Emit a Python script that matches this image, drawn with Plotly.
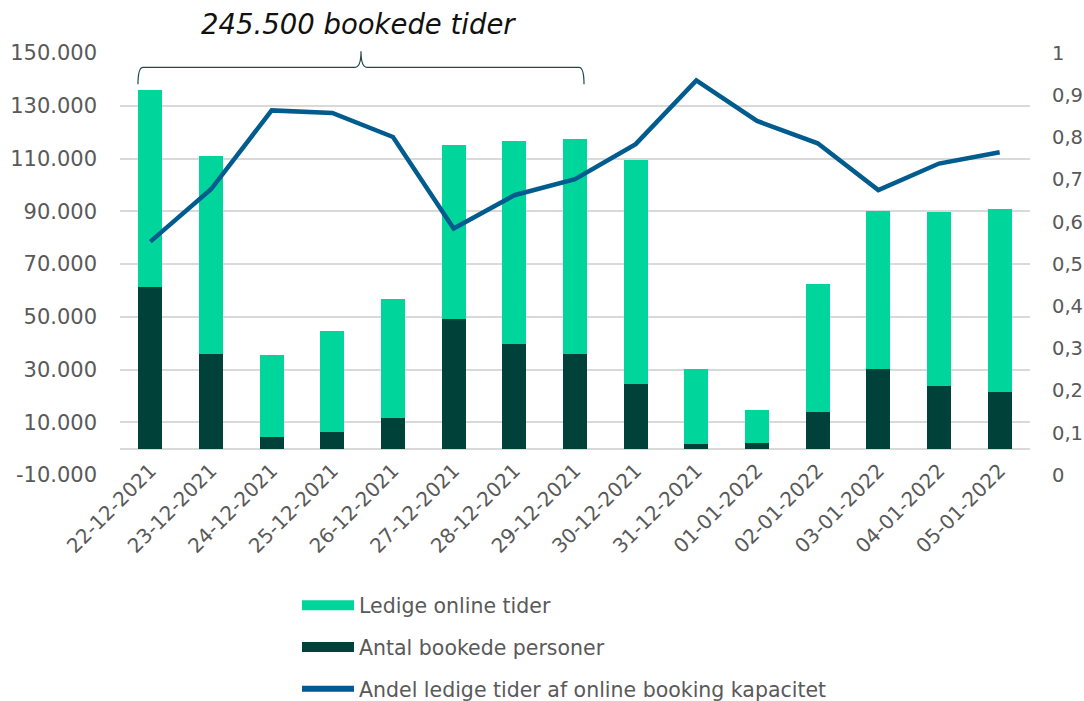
import plotly.graph_objects as go

dates = ["22-12-2021", "23-12-2021", "24-12-2021", "25-12-2021", "26-12-2021",
         "27-12-2021", "28-12-2021", "29-12-2021", "30-12-2021", "31-12-2021",
         "01-01-2022", "02-01-2022", "03-01-2022", "04-01-2022", "05-01-2022"]
booked = [61100, 35850, 4540, 6200, 11500, 49000, 39750, 35970, 24380, 1900,
          2270, 13900, 30290, 23850, 21580]
totals = [135800, 110800, 35360, 44680, 56680, 115000, 116500, 117360, 109300, 30060,
          14770, 62470, 90100, 89600, 90750]
free = [t - b for t, b in zip(totals, booked)]
share = [0.553, 0.677, 0.864, 0.858, 0.801, 0.584, 0.663, 0.701, 0.784, 0.935,
         0.839, 0.786, 0.675, 0.738, 0.765]

left_ticks = [-10000, 10000, 30000, 50000, 70000, 90000, 110000, 130000, 150000]
left_labels = ["-10.000", "10.000", "30.000", "50.000", "70.000", "90.000",
               "110.000", "130.000", "150.000"]
right_ticks = [0, 0.1, 0.2, 0.3, 0.4, 0.5, 0.6, 0.7, 0.8, 0.9, 1]
right_labels = ["0", "0,1", "0,2", "0,3", "0,4", "0,5", "0,6", "0,7", "0,8", "0,9", "1"]

LIGHT = "#00D69B"
DARK = "#004139"
BLUE = "#005B8E"
GRAY = "#595959"
GRID = "#D9D9D9"
FONT = "DejaVu Sans, sans-serif"

fig = go.Figure()
fig.add_trace(go.Bar(x=dates, y=booked, marker_color=DARK, name="Antal bookede personer",
                     showlegend=False, marker_line_width=0))
fig.add_trace(go.Bar(x=dates, y=free, marker_color=LIGHT, name="Ledige online tider",
                     showlegend=False, marker_line_width=0))
fig.add_trace(go.Scatter(x=dates, y=share, yaxis="y2", mode="lines",
                         line=dict(color=BLUE, width=4.5), showlegend=False,
                         name="Andel ledige tider af online booking kapacitet"))

# legend entries
fig.add_trace(go.Scatter(x=[None], y=[None], mode="lines", line=dict(color=LIGHT, width=12),
                         name="Ledige online tider", legendgroup="a", legendrank=1))
fig.add_trace(go.Scatter(x=[None], y=[None], mode="lines", line=dict(color=DARK, width=12),
                         name="Antal bookede personer", legendgroup="b", legendrank=2))
fig.add_trace(go.Scatter(x=[None], y=[None], mode="lines", line=dict(color=BLUE, width=6),
                         name="Andel ledige tider af online booking kapacitet",
                         legendgroup="c", legendrank=3))

L, R, T, B = 120, 1030, 52.7, 475.3
W, H = R - L, B - T


def px(x):
    return (x - L) / W


def py(y):
    return (B - y) / H


brace = (f"M {px(138)} {py(84)} Q {px(138)} {py(67)} {px(143)} {py(67)} "
         f"L {px(355)} {py(67)} Q {px(361)} {py(67)} {px(361)} {py(51)} "
         f"Q {px(361)} {py(67)} {px(367)} {py(67)} "
         f"L {px(579)} {py(67)} Q {px(584)} {py(67)} {px(584)} {py(84)}")
fig.add_shape(type="path", path=brace, xref="paper", yref="paper",
              line=dict(color="#1E4A45", width=1.2))
fig.add_annotation(text="<i>245.500 bookede tider</i>", xref="paper", yref="paper",
                   x=px(358), y=py(24), xanchor="center", yanchor="middle", showarrow=False,
                   font=dict(family="DejaVu Sans, sans-serif", size=27.5, color="#111111"))

fig.update_layout(
    width=1084, height=701,
    barmode="stack", bargap=0.6,
    plot_bgcolor="white", paper_bgcolor="white",
    margin=dict(l=L, r=1084 - R, t=T, b=701 - B, autoexpand=False),
    font=dict(family=FONT, color=GRAY, size=19),
    xaxis=dict(type="category", tickangle=-45, showgrid=False, ticks="",
               tickfont=dict(size=20, color=GRAY), showline=False, automargin=False,
               ticklabelstandoff=-21),
    yaxis=dict(range=[-10000, 150000], tickvals=left_ticks, ticktext=left_labels,
               showgrid=True, gridcolor=GRID, gridwidth=1.5, zeroline=True,
               zerolinecolor=GRID, zerolinewidth=1.5, ticks="", ticklabelstandoff=22,
               tickfont=dict(size=21, color=GRAY), automargin=False),
    yaxis2=dict(range=[0, 1], overlaying="y", side="right", tickvals=right_ticks,
                ticktext=right_labels, showgrid=False, zeroline=False, ticks="",
                ticklabelstandoff=21, tickfont=dict(size=19.5, color=GRAY), automargin=False),
    legend=dict(x=px(297), y=py(586), xanchor="left", yanchor="top",
                orientation="v", itemwidth=52, tracegroupgap=12,
                font=dict(size=20.5, color=GRAY), bgcolor="rgba(0,0,0,0)"),
)

fig.write_html("out.html", config={"displayModeBar": False},
               post_script="document.body.style.margin='0px';")
